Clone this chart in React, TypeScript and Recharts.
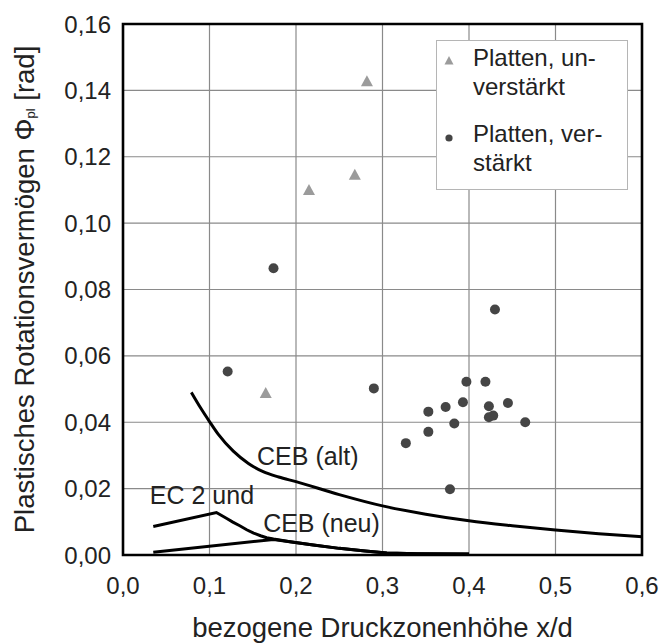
import React from 'react';
import {
  ComposedChart, Line, Scatter, XAxis, YAxis, CartesianGrid, Legend, ReferenceArea, ReferenceDot,
} from 'recharts';

const FONT = '"Liberation Sans", Arial, sans-serif';

const xTicks = [0, 0.1, 0.2, 0.3, 0.4, 0.5, 0.6];
const yTicks = [0, 0.02, 0.04, 0.06, 0.08, 0.1, 0.12, 0.14, 0.16];

const unverstaerkt = [
  { x: 0.165, y: 0.0487 },
  { x: 0.215, y: 0.1098 },
  { x: 0.268, y: 0.1144 },
  { x: 0.282, y: 0.1426 },
];

const verstaerkt = [
  { x: 0.121, y: 0.0553 },
  { x: 0.174, y: 0.0864 },
  { x: 0.29, y: 0.0502 },
  { x: 0.327, y: 0.0337 },
  { x: 0.353, y: 0.0371 },
  { x: 0.353, y: 0.0432 },
  { x: 0.373, y: 0.0446 },
  { x: 0.378, y: 0.0198 },
  { x: 0.383, y: 0.0396 },
  { x: 0.393, y: 0.046 },
  { x: 0.397, y: 0.0522 },
  { x: 0.419, y: 0.0522 },
  { x: 0.423, y: 0.0448 },
  { x: 0.423, y: 0.0415 },
  { x: 0.428, y: 0.042 },
  { x: 0.43, y: 0.074 },
  { x: 0.445, y: 0.0458 },
  { x: 0.465, y: 0.04 },
];

const cebAlt = [
  { x: 0.079, y: 0.049 },
  { x: 0.09, y: 0.0442 },
  { x: 0.1, y: 0.0402 },
  { x: 0.11, y: 0.0364 },
  { x: 0.1275, y: 0.0313 },
  { x: 0.145, y: 0.0276 },
  { x: 0.162, y: 0.0251 },
  { x: 0.18, y: 0.0235 },
  { x: 0.2, y: 0.0221 },
  { x: 0.25, y: 0.0182 },
  { x: 0.3, y: 0.0148 },
  { x: 0.35, y: 0.0123 },
  { x: 0.4, y: 0.0103 },
  { x: 0.45, y: 0.0088 },
  { x: 0.5, y: 0.0075 },
  { x: 0.55, y: 0.0064 },
  { x: 0.6, y: 0.0055 },
];

const ec2 = [
  { x: 0.035, y: 0.0086 },
  { x: 0.108, y: 0.0128 },
  { x: 0.114, y: 0.0119 },
  { x: 0.12, y: 0.0110 },
  { x: 0.127, y: 0.0099 },
  { x: 0.135, y: 0.0088 },
  { x: 0.143, y: 0.0076 },
  { x: 0.151, y: 0.0066 },
  { x: 0.159, y: 0.0058 },
  { x: 0.166, y: 0.0052 },
  { x: 0.174, y: 0.0048 },
  { x: 0.181, y: 0.0045 },
  { x: 0.193, y: 0.004 },
  { x: 0.22, y: 0.003 },
  { x: 0.25, y: 0.002 },
  { x: 0.28, y: 0.0012 },
  { x: 0.305, y: 0.0006 },
  { x: 0.34, y: 0.0004 },
  { x: 0.4, y: 0.0003 },
];

const cebNeu = [
  { x: 0.035, y: 0.0008 },
  { x: 0.174, y: 0.0047 },
  { x: 0.193, y: 0.004 },
  { x: 0.22, y: 0.003 },
  { x: 0.25, y: 0.002 },
  { x: 0.28, y: 0.0012 },
  { x: 0.305, y: 0.0006 },
  { x: 0.34, y: 0.0004 },
  { x: 0.4, y: 0.0003 },
];

const curveLabels = [
  { x: 0.155, y: 0.0271, text: 'CEB (alt)' },
  { x: 0.031, y: 0.0154, text: 'EC 2 und' },
  { x: 0.162, y: 0.0069, text: 'CEB (neu)' },
];

const fmtX = (v: number) => v.toFixed(1).replace('.', ',');
const fmtY = (v: number) => v.toFixed(2).replace('.', ',');

const Triangle = (props: any) => {
  const { cx, cy } = props;
  if (cx == null || cy == null) return null;
  return <path d={`M${cx},${cy - 6.5} L${cx + 6},${cy + 4.5} L${cx - 6},${cy + 4.5} Z`} fill="#9b9b9b" />;
};

const Dot = (props: any) => {
  const { cx, cy } = props;
  if (cx == null || cy == null) return null;
  return <circle cx={cx} cy={cy} r={5} fill="#454545" />;
};

const LegendBox = (props: any) => {
  const payload = (props.payload || []).filter((p: any) => p.type !== 'none');
  return (
    <div
      style={{
        border: '1.5px solid #b5b5b5',
        background: '#fff',
        padding: '2px 0 12px 0',
        width: 192,
        boxSizing: 'border-box',
        fontFamily: FONT,
        fontSize: 24,
        lineHeight: '29px',
        color: '#222',
      }}
    >
      {payload.map((p: any, i: number) => (
        <div key={i} style={{ position: 'relative', paddingLeft: 36, marginTop: i ? 18 : 0, whiteSpace: 'pre-line' }}>
          {p.value}
          <svg width={12} height={12} style={{ position: 'absolute', left: 6, top: 12 }}>
            {i === 0 ? (
              <path d="M6,1 L10.5,9.5 L1.5,9.5 Z" fill="#9b9b9b" />
            ) : (
              <circle cx={6} cy={7} r={3.6} fill="#454545" />
            )}
          </svg>
        </div>
      ))}
    </div>
  );
};

const YTitle = () => {
  const cx = 24;
  const cy = 289.5;
  return (
    <text
      transform={`translate(${cx},${cy}) rotate(-90)`}
      textAnchor="middle"
      dominantBaseline="central"
      fontFamily={FONT}
      fontSize={27.5}
      fill="#222"
    >
      Plastisches Rotationsvermögen Φ
      <tspan fontSize={13} dy={6}>pl</tspan>
      <tspan dy={-6}> [rad]</tspan>
    </text>
  );
};

const XTitle = (props: any) => {
  const vb = props.viewBox || { x: 0, y: 0, width: 0 };
  return (
    <text x={vb.x + vb.width / 2} y={vb.y + 82} textAnchor="middle" fontFamily={FONT} fontSize={27.5} fill="#222">
      bezogene Druckzonenhöhe x/d
    </text>
  );
};

const CurveText = (text: string) => (props: any) => {
  const vb = props.viewBox || { x: 0, y: 0 };
  return (
    <text x={vb.x} y={vb.y} fontFamily={FONT} fontSize={25} fill="#222">
      {text}
    </text>
  );
};

export default function App() {
  return (
    <div style={{ position: 'absolute', left: 0, top: 0, width: 662, height: 643, background: '#fff' }}>
      <ComposedChart width={662} height={643} margin={{ top: 24, right: 20, bottom: 48, left: 0 }}>
        <CartesianGrid stroke="#8a8a8a" strokeWidth={1.2} />
        <XAxis
          type="number"
          dataKey="x"
          domain={[0, 0.6]}
          ticks={xTicks}
          tickFormatter={fmtX}
          height={40}
          tickSize={0}
          tickMargin={22}
          axisLine={false}
          tick={{ fontFamily: FONT, fontSize: 24, fill: '#222' }}
          allowDataOverflow
          label={{ content: XTitle }}
        />
        <YAxis
          type="number"
          dataKey="y"
          domain={[0, 0.16]}
          ticks={yTicks}
          tickFormatter={fmtY}
          width={123}
          tickSize={0}
          tickMargin={12}
          axisLine={false}
          tick={{ fontFamily: FONT, fontSize: 24, fill: '#222' }}
          allowDataOverflow
          label={{ content: YTitle }}
        />
        <Legend
          content={LegendBox}
          wrapperStyle={{ position: 'absolute', left: 436, top: 40, width: 0, height: 0, overflow: 'visible' }}
        />
        <ReferenceArea x1={0} x2={0.6} y1={0} y2={0.16} fill="none" stroke="#000" strokeWidth={2.6} ifOverflow="visible" />
        <Line data={cebAlt} dataKey="y" type="monotone" stroke="#000" strokeWidth={3} dot={false} legendType="none" isAnimationActive={false} />
        <Line data={ec2} dataKey="y" type="linear" stroke="#000" strokeWidth={3} dot={false} legendType="none" isAnimationActive={false} />
        <Line data={cebNeu} dataKey="y" type="linear" stroke="#000" strokeWidth={3} dot={false} legendType="none" isAnimationActive={false} />
        <Scatter name={'Platten, un-\nverstärkt'} data={unverstaerkt} dataKey="y" shape={Triangle} fill="#9b9b9b" isAnimationActive={false} />
        <Scatter name={'Platten, ver-\nstärkt'} data={verstaerkt} dataKey="y" shape={Dot} fill="#454545" isAnimationActive={false} />
        {curveLabels.map((l, i) => (
          <ReferenceDot key={i} x={l.x} y={l.y} r={0} fill="none" stroke="none" label={{ content: CurveText(l.text) }} />
        ))}
      </ComposedChart>
    </div>
  );
}
